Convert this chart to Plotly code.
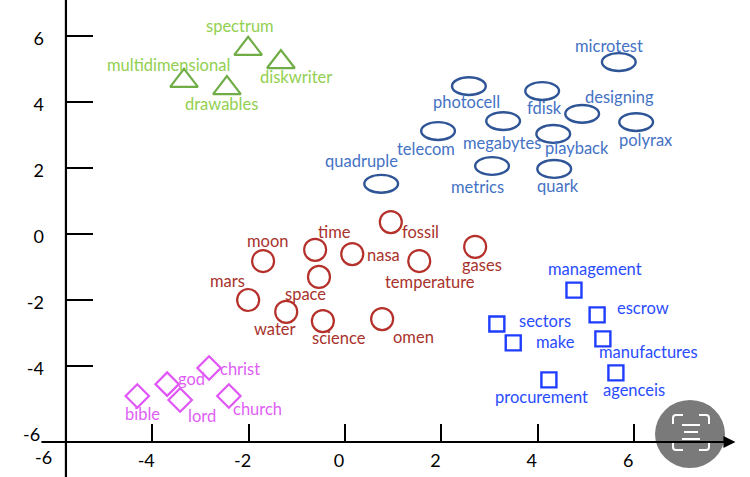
import plotly.graph_objects as go

# ---------------- data ----------------
green_words = ["spectrum", "diskwriter", "multidimensional", "drawables"]
green_x = [-2.01, -1.33, -3.34, -2.45]
green_y = [5.61, 5.21, 4.64, 4.42]

blue_words = ["microtest", "photocell", "fdisk", "designing", "polyrax", "telecom",
              "megabytes", "playback", "metrics", "quark", "quadruple"]
blue_x = [5.68, 2.57, 4.09, 4.92, 6.04, 1.93, 3.28, 4.32, 3.05, 4.34, 0.75]
blue_y = [5.21, 4.48, 4.33, 3.64, 3.39, 3.12, 3.42, 3.03, 2.06, 1.97, 1.52]

red_words = ["moon", "time", "nasa", "space", "mars", "water", "science", "omen",
             "fossil", "temperature", "gases"]
red_x = [-1.70, -0.62, 0.15, -0.54, -2.01, -1.22, -0.46, 0.77, 0.95, 1.54, 2.70]
red_y = [-0.82, -0.48, -0.61, -1.30, -2.00, -2.36, -2.64, -2.58, 0.36, -0.82, -0.39]

sq_words = ["management", "escrow", "sectors", "make", "manufactures", "agenceis", "procurement"]
sq_x = [4.75, 5.23, 3.15, 3.49, 5.35, 5.62, 4.23]
sq_y = [-1.70, -2.45, -2.73, -3.30, -3.18, -4.21, -4.42]

pink_words = ["christ", "god", "bible", "lord", "church"]
pink_x = [-2.82, -3.69, -4.31, -3.42, -2.41]
pink_y = [-4.06, -4.55, -4.91, -5.03, -4.91]

tick_vals = [-4, -2, 0, 2, 4, 6]
tick_text = ["-4", "-2", "0", "2", "4", "6"]

# ---------------- label pixel offsets (style) ----------------
green_off = [(-8, -23), (15, 15), (-16, -16), (-5, 16)]
blue_off = [(-10, -16), (-2, 16), (2, 17), (37, -17), (10, 18), (-12, 18),
            (-1, 22), (24, 14), (-15, 21), (4, 17), (-20, -23)]
red_off = [(5, -20), (19, -18), (31, 1), (-13, 17), (-21, -19), (-11, 17),
           (16, 17), (31, 18), (30, 10), (11, 21), (7, 18)]
sq_off = [(21, -21), (46, -7), (48, -3), (42, -1), (46, 13), (18, 17), (-7, 17)]
pink_off = [(31, 1), (24, -5), (5, 18), (22, 16), (29, 13)]

W, H = 750, 477
XR = [-7.158, 8.402]
YR = [-7.364, 7.09]
X_AXIS_Y = -6.3
Y_AXIS_X = -5.79

FONT = "Lato"
LBL = 16.5

fig = go.Figure()

fig.add_trace(go.Scatter(x=green_x, y=green_y, mode="markers",
                         marker=dict(symbol="triangle-up-open", size=24, color="#70ad47",
                                     line=dict(width=2.2, color="#70ad47")),
                         hoverinfo="skip", showlegend=False))
fig.add_trace(go.Scatter(x=red_x, y=red_y, mode="markers",
                         marker=dict(symbol="circle-open", size=22, color="#b5302a",
                                     line=dict(width=2.2, color="#b5302a")),
                         hoverinfo="skip", showlegend=False))
fig.add_trace(go.Scatter(x=sq_x, y=sq_y, mode="markers",
                         marker=dict(symbol="square-open", size=15, color="#1f3dff",
                                     line=dict(width=2.4, color="#1f3dff")),
                         hoverinfo="skip", showlegend=False))
fig.add_trace(go.Scatter(x=pink_x, y=pink_y, mode="markers",
                         marker=dict(symbol="diamond-open", size=18, color="#e055f5",
                                     line=dict(width=2.2, color="#e055f5")),
                         hoverinfo="skip", showlegend=False))
# invisible anchor trace for ellipses
fig.add_trace(go.Scatter(x=blue_x, y=blue_y, mode="markers",
                         marker=dict(size=1, color="rgba(0,0,0,0)"),
                         hoverinfo="skip", showlegend=False))

shapes = []
EW, EH = 0.35, 0.27
for x, y in zip(blue_x, blue_y):
    shapes.append(dict(type="circle", xref="x", yref="y",
                       x0=x - EW, x1=x + EW, y0=y - EH, y1=y + EH,
                       line=dict(color="#2f5597", width=2.4)))

# y axis line
shapes.append(dict(type="line", xref="x", yref="paper", x0=Y_AXIS_X, x1=Y_AXIS_X,
                   y0=0, y1=1, line=dict(color="black", width=2.2)))

annotations = []


def add_labels(words, xs, ys, offs, color):
    for w, x, y, (dx, dy) in zip(words, xs, ys, offs):
        annotations.append(dict(x=x, y=y, xref="x", yref="y", text=w, showarrow=False,
                                xshift=dx, yshift=-dy,
                                font=dict(family=FONT, size=LBL, color=color)))


add_labels(green_words, green_x, green_y, green_off, "#92d050")
add_labels(blue_words, blue_x, blue_y, blue_off, "#4472c4")
add_labels(red_words, red_x, red_y, red_off, "#a8322c")
add_labels(sq_words, sq_x, sq_y, sq_off, "#2a4cff")
add_labels(pink_words, pink_x, pink_y, pink_off, "#e060f5")

# x axis line with arrow
annotations.append(dict(x=8.1, y=X_AXIS_Y, ax=-6.33, ay=X_AXIS_Y, xref="x", yref="y",
                        axref="x", ayref="y", text="", showarrow=True, arrowhead=2,
                        arrowsize=1.2, arrowwidth=2, arrowcolor="black"))
# "-6" labels at the corner
annotations.append(dict(x=-6.5, y=-6.06, xref="x", yref="y", text="-6", showarrow=False,
                        font=dict(family=FONT, size=18, color="black")))
annotations.append(dict(x=-6.26, y=-6.75, xref="x", yref="y", text="-6", showarrow=False,
                        font=dict(family=FONT, size=18, color="black")))


# phone overlay button (bottom right)
def px(xp):
    return xp / W


def py(yp):
    return 1 - yp / H


shapes.append(dict(type="circle", xref="paper", yref="paper",
                   x0=px(655), x1=px(725), y0=py(468), y1=py(400),
                   fillcolor="#7a7a7a", line=dict(width=0)))
corners = [
    [(673, 424), (673, 418), (673, 415), (676, 415), (683, 415)],
    [(699, 415), (706, 415), (709, 415), (709, 418), (709, 424)],
    [(673, 441), (673, 447), (673, 450), (676, 450), (683, 450)],
    [(699, 450), (706, 450), (709, 450), (709, 447), (709, 441)],
]
for a, b, q, e, d in corners:
    path = (f"M {px(a[0])},{py(a[1])} L {px(b[0])},{py(b[1])} "
            f"Q {px(q[0])},{py(q[1])} {px(e[0])},{py(e[1])} "
            f"L {px(d[0])},{py(d[1])}")
    shapes.append(dict(type="path", xref="paper", yref="paper", path=path,
                       line=dict(color="white", width=2)))
for (x0, x1, yy) in [(682, 700, 425), (684, 698, 432), (682, 700, 439)]:
    shapes.append(dict(type="line", xref="paper", yref="paper", x0=px(x0), x1=px(x1),
                       y0=py(yy), y1=py(yy), line=dict(color="white", width=2)))

fig.update_layout(
    width=W, height=H, margin=dict(l=0, r=0, t=0, b=0),
    paper_bgcolor="white", plot_bgcolor="white",
    shapes=shapes, annotations=annotations,
    xaxis=dict(range=XR, showgrid=False, zeroline=False, showline=False,
               tickvals=tick_vals, ticktext=tick_text, ticks="inside", ticklen=18,
               tickwidth=2, tickcolor="black", anchor="free",
               position=(X_AXIS_Y - YR[0]) / (YR[1] - YR[0]),
               ticklabelstandoff=6, ticklabelshift=-6,
               tickfont=dict(family=FONT, size=18, color="black")),
    yaxis=dict(range=YR, showgrid=False, zeroline=False, showline=False,
               tickvals=tick_vals, ticktext=tick_text, ticks="inside", ticklen=26,
               tickwidth=2, tickcolor="black", anchor="free", side="left",
               position=(Y_AXIS_X - XR[0]) / (XR[1] - XR[0]),
               ticklabelstandoff=22, ticklabelshift=3,
               tickfont=dict(family=FONT, size=18, color="black")),
)

fig.write_html("out.html")
